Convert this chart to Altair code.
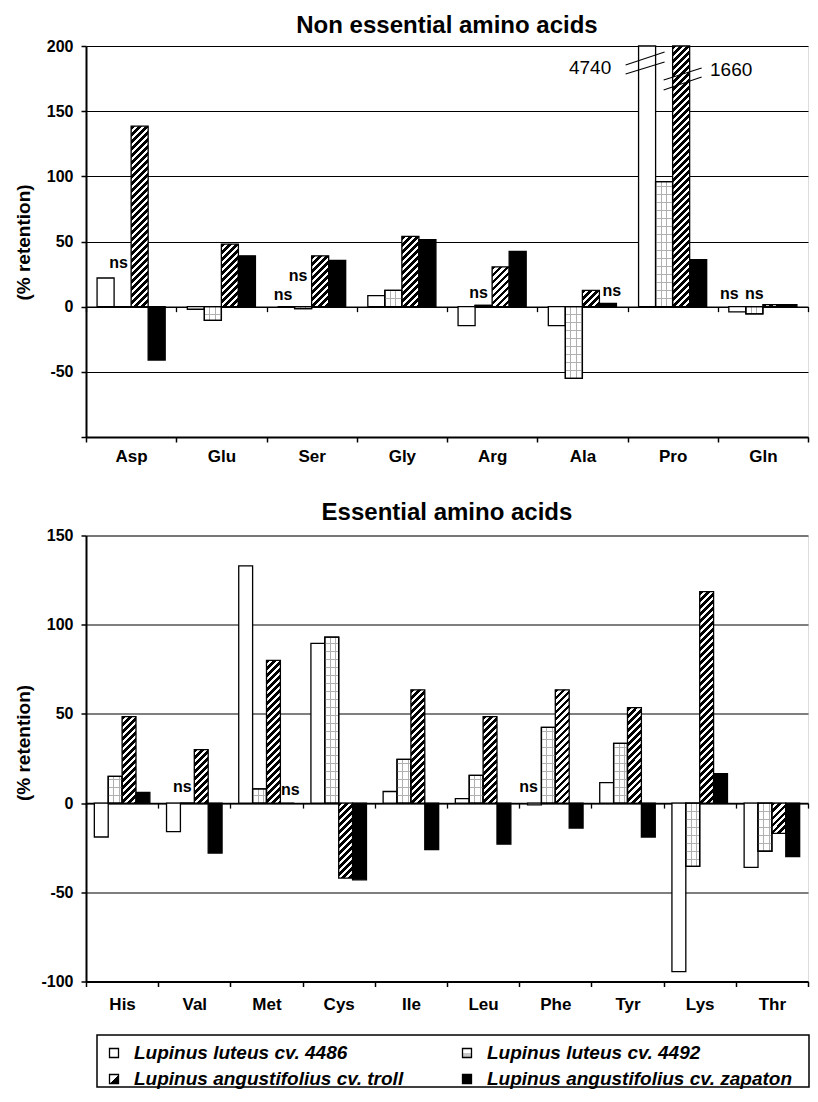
import altair as alt

FONT = "Liberation Sans"

SERIES = [
    "Lupinus luteus cv. 4486",
    "Lupinus luteus cv. 4492",
    "Lupinus angustifolius cv. troll",
    "Lupinus angustifolius cv. zapaton",
]

# Non essential amino acids (% retention)
NE_CATS = ["Asp", "Glu", "Ser", "Gly", "Arg", "Ala", "Pro", "Gln"]
NE_4486 = [22, -2, 0, 8.5, -14.5, -14.5, 4740, -4]
NE_4492 = [0, -10.5, -1.5, 12.5, 1, -55, 96, -5.5]
NE_TROLL = [138.5, 48, 39, 54, 30.5, 12.5, 1660, 1.5]
NE_ZAPATON = [-41, 39, 35.5, 51.5, 42.5, 2.5, 36, 1.5]

# Essential amino acids (% retention)
E_CATS = ["His", "Val", "Met", "Cys", "Ile", "Leu", "Phe", "Tyr", "Lys", "Thr"]
E_4486 = [-19, -16, 133, 89.5, 6.5, 2.5, -1, 11.5, -94.5, -36]
E_4492 = [15, 0, 8, 93, 24.5, 15.5, 42.5, 33.5, -35.5, -27]
E_TROLL = [48.5, 30, 80, -42, 63.5, 48.5, 63.5, 53.5, 118.5, -17]
E_ZAPATON = [6, -28, 0, -43, -26, -23, -14, -19, 16.5, -30]

# "ns" (not significant) marks: category, series index
NS_TOP_CATS = ["Asp", "Ser", "Ser", "Arg", "Ala", "Gln", "Gln"]
NS_TOP_SERIES = [1, 0, 1, 1, 3, 0, 1]
NS_BOT_CATS = ["Val", "Met", "Phe"]
NS_BOT_SERIES = [1, 3, 0]

# broken bars (values beyond the axis)
BREAK_CAT = "Pro"
BREAK_SERIES = [0, 2]

# ---------------- styling / layout constants ----------------
TOP_W, TOP_H, TOP_DOM, TOP_PAD = 722, 391, [-100, 200], 0.65
BOT_W, BOT_H, BOT_DOM, BOT_PAD = 722, 446, [-100, 150], 0.6
NS_TOP_DX = [-4, -3, -5, -5, 4, -8, 0]
NS_TOP_DY = [-44, -12, -31, -12, -12, -13, -13]
NS_BOT_DX = [-5, 3, -6]
NS_BOT_DY = [-16, -13, -16]
BREAK_TEXT_DX = [-57, 50]
BREAK_TEXT_DY = [22, 24]
BREAK_LINES = [
    [(-21.5, 19, 17.5, 6), (-21.5, 28, 17.5, 16)],
    [(-17.5, 34, 20.5, 22), (-17.5, 44, 20.5, 31)],
]
HATCH_PERIOD = 7.0
HATCH_BLACK = 0.55
GRID_DX = 5.5
GRID_DY = 8.0
GRID_COLOR = "#b0b0b0"


def r4(v):
    return round(v, 4)


def hatch(w, h):
    L = w + h
    s = L / (w * w + h * h)
    stops = []
    k = 0
    while k * HATCH_PERIOD < L:
        a = r4(k * HATCH_PERIOD / L)
        b = r4(min((k + HATCH_BLACK) * HATCH_PERIOD / L, 1))
        c = r4(min((k + 1) * HATCH_PERIOD / L, 1))
        stops += [{"offset": a, "color": "black"}, {"offset": b, "color": "black"},
                  {"offset": b, "color": "white"}, {"offset": c, "color": "white"}]
        k += 1
    return {"gradient": "linear", "x1": 0, "y1": 0, "x2": r4(w * s), "y2": r4(h * s),
            "stops": stops}


def line_stops(positions, size, bg):
    stops = [{"offset": 0, "color": bg}]
    for p in sorted(positions):
        a = r4(max((p - 0.5) / size, 0))
        b = r4(min((p + 0.5) / size, 1))
        stops += [{"offset": a, "color": bg}, {"offset": a, "color": GRID_COLOR},
                  {"offset": b, "color": GRID_COLOR}, {"offset": b, "color": bg}]
    stops.append({"offset": 1, "color": bg})
    return stops


def vlines(w):
    pos = []
    x = GRID_DX
    while x < w - 1.5:
        pos.append(x)
        x += GRID_DX
    return {"gradient": "linear", "x1": 0, "y1": 0, "x2": 1, "y2": 0,
            "stops": line_stops(pos, w, "white")}


def hlines(h, positive):
    pos = []
    k = 1
    while k * GRID_DY < h - 1:
        pos.append(h - k * GRID_DY if positive else k * GRID_DY)
        k += 1
    return {"gradient": "linear", "x1": 0, "y1": 0, "x2": 0, "y2": 1,
            "stops": line_stops(pos, max(h, 1), "rgba(255,255,255,0)")}


def panel(cats, values, title, W, H, dom, pad, ns_cats, ns_series, ns_dx, ns_dy,
          title_y, title_offset, top=False):
    n = len(cats)
    band = W / n
    step = band / (4 + 2 * pad)
    ppu = H / (dom[1] - dom[0])
    zero_px = dom[1] * ppu

    recs = []
    for ci, c in enumerate(cats):
        for si, s in enumerate(SERIES):
            v = values[si][ci]
            vis = min(max(v, dom[0]), dom[1])
            h = abs(vis) * ppu
            if si == 0:
                f = "white"
            elif si == 1:
                f = vlines(step)
            elif si == 2:
                f = hatch(step, h) if h > 0.5 else "white"
            else:
                f = "black"
            rec = {"cat": c, "series": s, "value": v, "fill": f}
            if si == 1:
                rec["fill2"] = hlines(h, v >= 0)
            recs.append(rec)
    data = alt.Data(values=recs)

    def centre(ci, si):
        return ci + (pad + si + 0.5) / (4 + 2 * pad)

    y_axis = alt.Axis(
        values=list(range(dom[0], dom[1] + 1, 50)),
        title="(% retention)", titleFontSize=19, titleFontWeight="bold",
        titleColor="black", titleFont=FONT, titleAngle=270, titleAlign="center",
        titleBaseline="middle", titleX=-63, titleY=title_y,
        labelFontSize=16, labelFontWeight="bold", labelColor="black", labelFont=FONT,
        labelPadding=8,
        labelExpr=("datum.value == -100 ? '' : '' + datum.value") if top
        else "'' + datum.value",
        grid=True, gridColor="black", gridWidth=1.2,
        domain=True, domainColor="black", domainWidth=2,
        ticks=True, tickColor="black", tickSize=5, tickWidth=1.5,
    )
    Y = alt.Y("value:Q", stack=None,
              scale=alt.Scale(domain=dom, clamp=True, nice=False, zero=False),
              axis=y_axis)
    x_axis_kw = dict(labelAngle=0, labelFontSize=17,
                     labelFontWeight="bold", labelColor="black", labelFont=FONT,
                     tickBand="extent", tickSize=5, tickWidth=1.5,
                     tickColor="black", domainColor="black", domainWidth=2,
                     grid=False)
    if top:
        # invisible spacer title below the category labels
        x_axis = alt.Axis(title="x", titleColor="rgba(0,0,0,0)", titleFontSize=8,
                          titlePadding=7, labelPadding=6, **x_axis_kw)
    else:
        x_axis = alt.Axis(title=None, labelPadding=10, **x_axis_kw)
    X = alt.X("cat:N", sort=cats,
              scale=alt.Scale(domain=cats, paddingInner=0, paddingOuter=0),
              axis=x_axis)
    XO = alt.XOffset("series:N", sort=SERIES,
                     scale=alt.Scale(domain=SERIES, paddingInner=0, paddingOuter=pad))
    XQ = alt.X("xq:Q", scale=alt.Scale(domain=[0, n], nice=False, zero=False),
               axis=alt.Axis(values=list(range(n + 1)), labels=False, title=None,
                             grid=False, domain=True, domainColor="black",
                             domainWidth=1.5, ticks=True, tickColor="black",
                             tickSize=5, tickWidth=1.3, orient="bottom",
                             offset=-(H - zero_px)))

    bars = alt.Chart(data).mark_bar(stroke="black", strokeWidth=1.3).encode(
        x=X, xOffset=XO, y=Y, fill=alt.Fill("fill:N", scale=None, legend=None))
    grid = alt.Chart(data).transform_filter(
        alt.datum.series == SERIES[1]).mark_bar(stroke="black", strokeWidth=1.3).encode(
        x=X, xOffset=XO, y=Y, fill=alt.Fill("fill2:N", scale=None, legend=None))

    ns_recs = []
    for c, si, dx, dy in zip(ns_cats, ns_series, ns_dx, ns_dy):
        ci = cats.index(c)
        v = values[si][ci]
        ns_recs.append({"xq": centre(ci, si) + dx / band,
                         "value": max(v, 0) - dy / ppu, "t": "ns"})
    ns = alt.Chart(alt.Data(values=ns_recs)).mark_text(
        font=FONT, fontSize=16, fontWeight="bold", color="black",
        baseline="middle", align="center").encode(x=XQ, y=Y, text="t:N")
    quant = [ns]

    if top:
        ci = cats.index(BREAK_CAT)
        t_recs, l_recs = [], []
        for k, si in enumerate(BREAK_SERIES):
            cx = centre(ci, si)
            t_recs.append({"xq": cx + BREAK_TEXT_DX[k] / band,
                           "value": dom[1] - BREAK_TEXT_DY[k] / ppu,
                           "t": str(values[si][ci])})
            for (xa, ya, xb, yb) in BREAK_LINES[k]:
                l_recs.append({"xq": cx + xa / band, "xq2": cx + xb / band,
                               "value": dom[1] - ya / ppu, "value2": dom[1] - yb / ppu})
        btext = alt.Chart(alt.Data(values=t_recs)).mark_text(
            font=FONT, fontSize=19, color="black", baseline="middle",
            align="center").encode(x=XQ, y=Y, text="t:N")
        blines = alt.Chart(alt.Data(values=l_recs)).mark_rule(
            color="black", strokeWidth=1.1).encode(
            x=XQ, x2="xq2:Q", y=Y, y2="value2:Q")
        quant += [blines, btext]

    return alt.layer(alt.layer(bars, grid), alt.layer(*quant)).resolve_scale(
        x="independent").properties(
        width=W, height=H,
        title=alt.Title(title, fontSize=24, fontWeight="bold", font=FONT,
                        color="black", anchor="middle", frame="group",
                        baseline="bottom", offset=title_offset))


top = panel(NE_CATS, [NE_4486, NE_4492, NE_TROLL, NE_ZAPATON],
            "Non essential amino acids", TOP_W, TOP_H, TOP_DOM, TOP_PAD,
            NS_TOP_CATS, NS_TOP_SERIES, NS_TOP_DX, NS_TOP_DY, 196, -23.5, top=True)
bottom = panel(E_CATS, [E_4486, E_4492, E_TROLL, E_ZAPATON],
               "Essential amino acids", BOT_W, BOT_H, BOT_DOM, BOT_PAD,
               NS_BOT_CATS, NS_BOT_SERIES, NS_BOT_DX, NS_BOT_DY, 207, -21.5)

# ---------------- legend ----------------
LEG_COL = [0, 1, 0, 1]
LEG_ROW = [0, 0, 1, 1]
LEG_FILL = [
    "white",
    {"gradient": "linear", "x1": 0, "y1": 0, "x2": 0, "y2": 1,
     "stops": [{"offset": 0, "color": "white"}, {"offset": 0.5, "color": "white"},
               {"offset": 0.5, "color": "#c8c8c8"}, {"offset": 1, "color": "#c8c8c8"}]},
    {"gradient": "linear", "x1": 0, "y1": 0, "x2": 1, "y2": 1,
     "stops": [{"offset": 0, "color": "white"}, {"offset": 0.5, "color": "white"},
               {"offset": 0.5, "color": "black"}, {"offset": 1, "color": "black"}]},
    "black",
]
leg_recs = [{"series": s, "col": c, "row": r, "fill": f}
            for s, c, r, f in zip(SERIES, LEG_COL, LEG_ROW, LEG_FILL)]
leg_data = alt.Data(values=leg_recs)
LX = alt.X("col:Q", scale=alt.Scale(domain=[0, 1], range=[0, 353]), axis=None)
LY = alt.Y("row:Q", scale=alt.Scale(domain=[0, 1], range=[18, 44]), axis=None)
leg_sym = alt.Chart(leg_data).mark_square(
    size=81, stroke="black", strokeWidth=1.3, opacity=1, xOffset=17).encode(
    x=LX, y=LY, fill=alt.Fill("fill:N", scale=None, legend=None))
leg_txt = alt.Chart(leg_data).mark_text(
    align="left", baseline="middle", xOffset=37, font=FONT, fontSize=19,
    fontStyle="italic", fontWeight="bold", color="black").encode(
    x=LX, y=LY, text="series:N")
legend = alt.layer(leg_sym, leg_txt).properties(
    width=TOP_W - 10, height=52,
    view=alt.ViewBackground(stroke="black", strokeWidth=1.5))
spacer = alt.Chart(alt.Data(values=[{"a": 0}])).mark_point(
    opacity=0, size=1).properties(width=10, height=1)
legend_row = alt.hconcat(spacer, legend, spacing=0)

chart = alt.vconcat(top, bottom, legend_row, spacing=20.5).resolve_scale(
    xOffset="independent"
).properties(
    padding={"left": 5, "top": 5, "right": 0, "bottom": 0}
).configure_view(stroke=None).configure(font=FONT)

chart.save("out.html", embed_options={"renderer": "svg", "actions": False})
